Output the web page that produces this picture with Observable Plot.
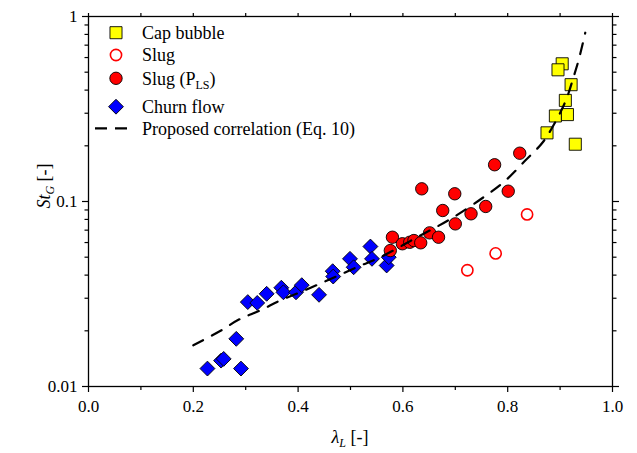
<!DOCTYPE html>
<html>
<head>
<meta charset="utf-8">
<script src="https://cdn.jsdelivr.net/npm/d3@7"></script>
<script src="https://cdn.jsdelivr.net/npm/@observablehq/plot@0.6"></script>
<style>
  html, body { margin: 0; padding: 0; background: #fff; }
  svg { display: block; }
</style>
</head>
<body>
<div id="chart"></div>
<script>
// ---- Data ----
const capX = [0.904, 0.896, 0.921, 0.910, 0.891, 0.914, 0.875, 0.929];
const capY = [0.555, 0.515, 0.428, 0.352, 0.290, 0.295, 0.235, 0.204];

const slugOpenX = [0.837, 0.777, 0.723];
const slugOpenY = [0.0851, 0.0524, 0.0425];

const slugPlsX = [0.576, 0.580, 0.599, 0.613, 0.621, 0.634, 0.651, 0.668, 0.636, 0.699, 0.775, 0.823, 0.801, 0.676, 0.758, 0.730, 0.700];
const slugPlsY = [0.0543, 0.0641, 0.0591, 0.0602, 0.0615, 0.0598, 0.0677, 0.0641, 0.1171, 0.1101, 0.158, 0.1824, 0.1137, 0.0894, 0.0940, 0.0858, 0.0757];

const churnX = [0.227, 0.253, 0.258, 0.282, 0.291, 0.304, 0.322, 0.340, 0.368, 0.372, 0.396, 0.407, 0.440, 0.466, 0.467, 0.499, 0.506, 0.538, 0.541, 0.569, 0.573];
const churnY = [0.0125, 0.0138, 0.0141, 0.0181, 0.0125, 0.0286, 0.0283, 0.0317, 0.0342, 0.0323, 0.0323, 0.0353, 0.0313, 0.0420, 0.0393, 0.0490, 0.0441, 0.0571, 0.0490, 0.0451, 0.0500];

const corrX = [0.200, 0.252, 0.287, 0.328, 0.366, 0.405, 0.443, 0.481, 0.519, 0.557, 0.627, 0.691, 0.754, 0.796, 0.834, 0.867, 0.889, 0.911, 0.926, 0.936, 0.948];
const corrY = [0.0167, 0.0200, 0.0230, 0.0258, 0.0292, 0.0324, 0.0361, 0.0403, 0.0450, 0.0500, 0.0641, 0.0805, 0.1055, 0.130, 0.167, 0.209, 0.263, 0.352, 0.474, 0.590, 0.817];

const xMajorTicks = [0, 0.2, 0.4, 0.6, 0.8, 1.0];
const xMinorTicks = [0.1, 0.3, 0.5, 0.7, 0.9];
const xTopTicks = [0, 0.1, 0.2, 0.3, 0.4, 0.5, 0.6, 0.7, 0.8, 0.9, 1.0];
const yMajorTicks = [0.01, 0.1, 1];
const yTickLabels = ["0.01", "0.1", "1"];
const yMinorTicks = [0.02, 0.03, 0.04, 0.05, 0.06, 0.07, 0.08, 0.09, 0.2, 0.3, 0.4, 0.5, 0.6, 0.7, 0.8, 0.9];

const legendLabels = ["Cap bubble", "Slug", "Slug (P", "Churn flow", "Proposed correlation (Eq. 10)"];

// ---- Tables ----
const toRows = (xs, ys) => xs.map((x, i) => ({x, y: ys[i]}));
const cap = toRows(capX, capY);
const slugOpen = toRows(slugOpenX, slugOpenY);
const slugPls = toRows(slugPlsX, slugPlsY);
const churn = toRows(churnX, churnY);
const corr = toRows(corrX, corrY);

const FONT = "'Liberation Serif', 'Times New Roman', serif";
const blank = () => "";

const svg = Plot.plot({
  width: 637,
  height: 453,
  marginLeft: 88,
  marginRight: 25,
  marginTop: 16,
  marginBottom: 67,
  style: {fontFamily: FONT, fontSize: "17px", color: "black", background: "white", overflow: "visible"},
  x: {domain: [0, 1]},
  y: {type: "log", domain: [0.01, 1]},
  marks: [
    Plot.dot(churn, {x: "x", y: "y", symbol: "diamond2", r: 6.7, fill: "#0000ff", stroke: "black", strokeWidth: 0.9}),
    Plot.dot(slugPls, {x: "x", y: "y", symbol: "circle", r: 6.2, fill: "#ff0000", stroke: "black", strokeWidth: 0.9}),
    Plot.dot(slugOpen, {x: "x", y: "y", symbol: "circle", r: 5.6, fill: "white", stroke: "#ff0000", strokeWidth: 1.6}),
    Plot.dot(cap, {x: "x", y: "y", symbol: "square", r: 6.8, fill: "#ffff00", stroke: "black", strokeWidth: 0.9}),
    Plot.line(corr, {x: "x", y: "y", stroke: "black", strokeWidth: 2.2, strokeDasharray: "11,10", curve: "catmull-rom"}),
    Plot.frame({stroke: "black", strokeWidth: 1.3}),
    Plot.axisX(xMajorTicks, {anchor: "bottom", tickSize: 6, tickPadding: 7, strokeWidth: 1.2, tickFormat: d => d.toFixed(1), fontSize: 17, label: null}),
    Plot.axisX(xMinorTicks, {anchor: "bottom", tickSize: 4, strokeWidth: 1.2, tickFormat: blank, label: null}),
    Plot.axisX(xTopTicks, {anchor: "top", tickSize: 4, strokeWidth: 1.2, tickFormat: blank, label: null}),
    Plot.axisY(yMajorTicks, {anchor: "left", tickSize: 6, tickPadding: 5, strokeWidth: 1.2, tickFormat: d => yTickLabels[yMajorTicks.indexOf(d)], fontSize: 17, label: null}),
    Plot.axisY(yMinorTicks, {anchor: "left", tickSize: 3.5, strokeWidth: 1.2, tickFormat: blank, label: null}),
    Plot.axisY(yMajorTicks, {anchor: "right", tickSize: 6, strokeWidth: 1.2, tickFormat: blank, label: null}),
    Plot.axisY(yMinorTicks, {anchor: "right", tickSize: 3.5, strokeWidth: 1.2, tickFormat: blank, label: null})
  ]
});

const s = d3.select(svg);

// ---- Axis titles ----
const xt = s.append("text")
  .attr("x", 350).attr("y", 443)
  .attr("text-anchor", "middle")
  .attr("font-family", FONT).attr("font-size", 18).attr("fill", "black");
xt.append("tspan").attr("font-style", "italic").text("λ");
xt.append("tspan").attr("font-style", "italic").attr("font-size", 12).attr("dy", 4).text("L");
xt.append("tspan").attr("dy", -4).text(" [-]");

const yt = s.append("text")
  .attr("transform", "translate(50,186) rotate(-90)")
  .attr("text-anchor", "middle")
  .attr("font-family", FONT).attr("font-size", 18).attr("fill", "black");
yt.append("tspan").attr("font-style", "italic").text("St");
yt.append("tspan").attr("font-style", "italic").attr("font-size", 12).attr("dy", 4).text("G");
yt.append("tspan").attr("dy", -4).text(" [-]");

// ---- Legend ----
const lg = s.append("g").attr("font-family", FONT).attr("font-size", 18).attr("fill", "black").attr("text-anchor", "start");
const lx = 116, tx = 142;
const rows = [32.7, 55, 78.3, 106.7, 128.3];
const size = r => Math.PI * r * r;

lg.append("path").attr("transform", `translate(${lx},${rows[0]})`)
  .attr("d", d3.symbol(d3.symbolSquare, size(6.8))())
  .attr("fill", "#ffff00").attr("stroke", "black").attr("stroke-width", 0.9);
lg.append("circle").attr("cx", lx).attr("cy", rows[1]).attr("r", 5.6)
  .attr("fill", "white").attr("stroke", "#ff0000").attr("stroke-width", 1.6);
lg.append("circle").attr("cx", lx).attr("cy", rows[2]).attr("r", 6.2)
  .attr("fill", "#ff0000").attr("stroke", "black").attr("stroke-width", 0.9);
lg.append("path").attr("transform", `translate(${lx},${rows[3]})`)
  .attr("d", d3.symbol(d3.symbolDiamond2, size(6.7))())
  .attr("fill", "#0000ff").attr("stroke", "black").attr("stroke-width", 0.9);
lg.append("line").attr("x1", 95).attr("x2", 127).attr("y1", rows[4]).attr("y2", rows[4])
  .attr("stroke", "black").attr("stroke-width", 2.2).attr("stroke-dasharray", "12,8");

legendLabels.forEach((label, i) => {
  const t = lg.append("text").attr("x", tx).attr("y", rows[i]).attr("dy", "0.35em").attr("text-anchor", "start").text(label);
  if (i === 2) {
    t.append("tspan").attr("font-size", 12).attr("dy", 4).text("LS");
    t.append("tspan").attr("dy", -4).text(")");
  }
});

document.getElementById("chart").appendChild(svg);
</script>
</body>
</html>
